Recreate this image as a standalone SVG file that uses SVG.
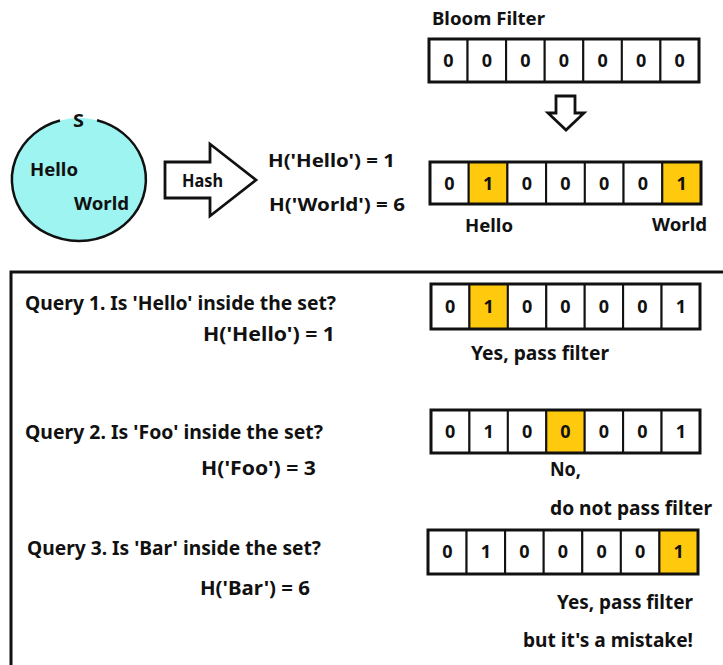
<svg xmlns="http://www.w3.org/2000/svg" width="723" height="665" viewBox="0 0 723 665">
  <style>
    text { font-family: "Noto Sans", "Open Sans", "Liberation Sans", sans-serif; font-weight: bold; fill: #111; }
    .lbl { font-size: 17.5px; }
    .q { font-size: 19px; }
    .digit { font-size: 18px; text-anchor: middle; }
    .cell { fill: #fff; stroke: #111; stroke-width: 2; }
    .hit { fill: #FFC90E; stroke: #111; stroke-width: 2; }
    .frame { fill: none; stroke: #111; stroke-width: 3; }
    .arrow { fill: #fff; stroke: #111; stroke-width: 2.8; stroke-linejoin: miter; }
  </style>

  <rect width="723" height="665" fill="#fff"/>

  <!-- Set S -->
  <g id="set">
    <ellipse cx="79" cy="179.5" rx="67" ry="61.5" fill="#9EF4F0"/>
    <path d="M97,120.3 A67,61.5 0 1,1 60,120.5" fill="none" stroke="#111" stroke-width="2.5"/>
    <text class="lbl" x="73" y="126.5" font-size="18" textLength="11" lengthAdjust="spacingAndGlyphs">S</text>
    <text class="lbl" x="30" y="176" textLength="48" lengthAdjust="spacingAndGlyphs">Hello</text>
    <text class="lbl" x="74" y="210" textLength="55" lengthAdjust="spacingAndGlyphs">World</text>
  </g>

  <!-- Hash block arrow -->
  <g id="hash">
    <polygon class="arrow" points="165,162 210,162 210,144 256,180 210,216 210,198 165,198"/>
    <text class="lbl" x="182" y="187" textLength="41" lengthAdjust="spacingAndGlyphs">Hash</text>
  </g>

  <!-- Hash results -->
  <g id="hash-results">
    <text class="lbl" x="268" y="167" textLength="127" lengthAdjust="spacingAndGlyphs">H('Hello') = 1</text>
    <text class="lbl" x="269" y="211" textLength="136" lengthAdjust="spacingAndGlyphs">H('World') = 6</text>
  </g>

  <!-- Empty bloom filter -->
  <g id="filter-empty">
    <text class="lbl" x="432" y="25" textLength="113" lengthAdjust="spacingAndGlyphs">Bloom Filter</text>
    <rect class="cell" x="429" y="39" width="38.57" height="43"/>
    <rect class="cell" x="467.57" y="39" width="38.57" height="43"/>
    <rect class="cell" x="506.14" y="39" width="38.57" height="43"/>
    <rect class="cell" x="544.71" y="39" width="38.57" height="43"/>
    <rect class="cell" x="583.29" y="39" width="38.57" height="43"/>
    <rect class="cell" x="621.86" y="39" width="38.57" height="43"/>
    <rect class="cell" x="660.43" y="39" width="38.57" height="43"/>
    <rect class="frame" x="429" y="39" width="270" height="43"/>
    <text class="digit" x="448.3" y="67">0</text>
    <text class="digit" x="486.9" y="67">0</text>
    <text class="digit" x="525.4" y="67">0</text>
    <text class="digit" x="564" y="67">0</text>
    <text class="digit" x="602.6" y="67">0</text>
    <text class="digit" x="641.1" y="67">0</text>
    <text class="digit" x="679.7" y="67">0</text>
  </g>

  <!-- Down arrow between filters -->
  <g id="down-arrow">
    <polygon class="arrow" points="556,96 575,96 575,113 584,113 566,130 548,113 556,113"/>
  </g>

  <!-- Filled bloom filter -->
  <g id="filter-filled">
    <rect class="cell" x="430" y="162" width="38.71" height="42"/>
    <rect class="hit" x="468.71" y="162" width="38.71" height="42"/>
    <rect class="cell" x="507.43" y="162" width="38.71" height="42"/>
    <rect class="cell" x="546.14" y="162" width="38.71" height="42"/>
    <rect class="cell" x="584.86" y="162" width="38.71" height="42"/>
    <rect class="cell" x="623.57" y="162" width="38.71" height="42"/>
    <rect class="hit" x="662.29" y="162" width="38.71" height="42"/>
    <rect class="frame" x="430" y="162" width="271" height="42"/>
    <text class="digit" x="449.4" y="189.5">0</text>
    <text class="digit" x="488.1" y="189.5">1</text>
    <text class="digit" x="526.8" y="189.5">0</text>
    <text class="digit" x="565.5" y="189.5">0</text>
    <text class="digit" x="604.2" y="189.5">0</text>
    <text class="digit" x="642.9" y="189.5">0</text>
    <text class="digit" x="681.6" y="189.5">1</text>
    <text class="lbl" x="465" y="232" textLength="48" lengthAdjust="spacingAndGlyphs">Hello</text>
    <text class="lbl" x="652" y="231" textLength="55" lengthAdjust="spacingAndGlyphs">World</text>
  </g>

  <!-- Query panel border -->
  <g id="panel">
    <path d="M11,665 V272 H723" fill="none" stroke="#111" stroke-width="3"/>
  </g>

  <!-- Query 1 -->
  <g id="query1">
    <text class="q" x="25" y="310" textLength="311" lengthAdjust="spacingAndGlyphs">Query 1. Is 'Hello' inside the set?</text>
    <text class="q" x="203" y="341" textLength="132" lengthAdjust="spacingAndGlyphs">H('Hello') = 1</text>
    <rect class="cell" x="431" y="284" width="38.43" height="45"/>
    <rect class="hit" x="469.43" y="284" width="38.43" height="45"/>
    <rect class="cell" x="507.86" y="284" width="38.43" height="45"/>
    <rect class="cell" x="546.29" y="284" width="38.43" height="45"/>
    <rect class="cell" x="584.71" y="284" width="38.43" height="45"/>
    <rect class="cell" x="623.14" y="284" width="38.43" height="45"/>
    <rect class="cell" x="661.57" y="284" width="38.43" height="45"/>
    <rect class="frame" x="431" y="284" width="269" height="45"/>
    <text class="digit" x="450.2" y="312.5">0</text>
    <text class="digit" x="488.6" y="312.5">1</text>
    <text class="digit" x="527.1" y="312.5">0</text>
    <text class="digit" x="565.5" y="312.5">0</text>
    <text class="digit" x="603.9" y="312.5">0</text>
    <text class="digit" x="642.4" y="312.5">0</text>
    <text class="digit" x="680.8" y="312.5">1</text>
    <text class="q" x="471" y="360" textLength="138" lengthAdjust="spacingAndGlyphs">Yes, pass filter</text>
  </g>

  <!-- Query 2 -->
  <g id="query2">
    <text class="q" x="25" y="439" textLength="298" lengthAdjust="spacingAndGlyphs">Query 2. Is 'Foo' inside the set?</text>
    <text class="q" x="201" y="475" textLength="115" lengthAdjust="spacingAndGlyphs">H('Foo') = 3</text>
    <rect class="cell" x="431" y="410" width="38.43" height="43"/>
    <rect class="cell" x="469.43" y="410" width="38.43" height="43"/>
    <rect class="cell" x="507.86" y="410" width="38.43" height="43"/>
    <rect class="hit" x="546.29" y="410" width="38.43" height="43"/>
    <rect class="cell" x="584.71" y="410" width="38.43" height="43"/>
    <rect class="cell" x="623.14" y="410" width="38.43" height="43"/>
    <rect class="cell" x="661.57" y="410" width="38.43" height="43"/>
    <rect class="frame" x="431" y="410" width="269" height="43"/>
    <text class="digit" x="450.2" y="437.5">0</text>
    <text class="digit" x="488.6" y="437.5">1</text>
    <text class="digit" x="527.1" y="437.5">0</text>
    <text class="digit" x="565.5" y="437.5">0</text>
    <text class="digit" x="603.9" y="437.5">0</text>
    <text class="digit" x="642.4" y="437.5">0</text>
    <text class="digit" x="680.8" y="437.5">1</text>
    <text class="q" x="550" y="476" textLength="31" lengthAdjust="spacingAndGlyphs">No,</text>
    <text class="q" x="550" y="515" textLength="162" lengthAdjust="spacingAndGlyphs">do not pass filter</text>
  </g>

  <!-- Query 3 -->
  <g id="query3">
    <text class="q" x="27" y="555" textLength="294" lengthAdjust="spacingAndGlyphs">Query 3. Is 'Bar' inside the set?</text>
    <text class="q" x="200" y="595" textLength="110" lengthAdjust="spacingAndGlyphs">H('Bar') = 6</text>
    <rect class="cell" x="428" y="530" width="38.57" height="44"/>
    <rect class="cell" x="466.57" y="530" width="38.57" height="44"/>
    <rect class="cell" x="505.14" y="530" width="38.57" height="44"/>
    <rect class="cell" x="543.71" y="530" width="38.57" height="44"/>
    <rect class="cell" x="582.29" y="530" width="38.57" height="44"/>
    <rect class="cell" x="620.86" y="530" width="38.57" height="44"/>
    <rect class="hit" x="659.43" y="530" width="38.57" height="44"/>
    <rect class="frame" x="428" y="530" width="270" height="44"/>
    <text class="digit" x="447.3" y="558">0</text>
    <text class="digit" x="485.9" y="558">1</text>
    <text class="digit" x="524.4" y="558">0</text>
    <text class="digit" x="563" y="558">0</text>
    <text class="digit" x="601.6" y="558">0</text>
    <text class="digit" x="640.1" y="558">0</text>
    <text class="digit" x="678.7" y="558">1</text>
    <text class="q" x="557" y="609" textLength="136" lengthAdjust="spacingAndGlyphs">Yes, pass filter</text>
    <text class="q" x="523" y="647" textLength="170" lengthAdjust="spacingAndGlyphs">but it's a mistake!</text>
  </g>
</svg>
